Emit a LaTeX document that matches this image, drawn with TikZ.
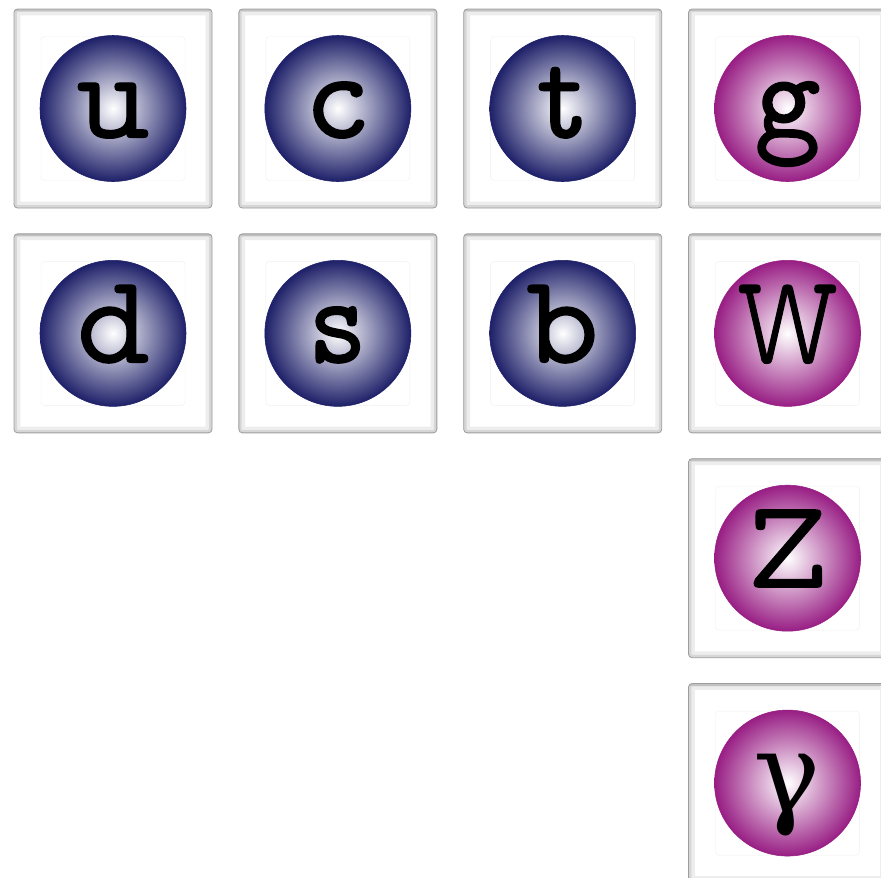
\documentclass[tikz,border=0pt]{standalone}
\usepackage{fontspec}
\usepackage{graphicx}
\usepackage{tikz}
\usetikzlibrary{positioning}

\newfontfamily\particlefont{lmmonoprop10-regular.otf}[FakeBold=1.1]
\newfontfamily\greekfont{DejaVu Serif}

\definecolor{quarkblue}{RGB}{30,32,105}
\definecolor{bosonpink}{RGB}{152,30,132}

\begin{document}
\begin{tikzpicture}[
  node distance=.625cm and .65cm,
  card/.style={draw=black!38,line width=.6pt,fill=white,rounded corners=2.5pt,
    minimum width=4.95cm,minimum height=4.975cm,inner sep=0pt,
    path picture={
      \draw[black!7,line width=9pt,rounded corners=2.5pt]
        (path picture bounding box.south west) rectangle (path picture bounding box.north east);
      \draw[black!16,line width=4pt,rounded corners=2.5pt]
        (path picture bounding box.south west) rectangle (path picture bounding box.north east);
      \draw[black!24,line width=3.5pt]
        (path picture bounding box.north west) -- (path picture bounding box.north east);
      \draw[black!6,line width=.3pt]
        (path picture bounding box.center) ++(-1.8,-1.8) rectangle ++(3.6,3.6);}},
  ball/.style={circle,minimum size=3.65cm,inner sep=0pt,line width=.4pt,
    text height=1.95cm,text depth=.5cm,
    font=\fontsize{90}{90}\selectfont\particlefont},
  quark/.style={ball,inner color=white,outer color=quarkblue,draw=quarkblue},
  boson/.style={ball,inner color=white,outer color=bosonpink,draw=bosonpink}]
\useasboundingbox (0,0) rectangle (22.025,-21.925);
% cards
\node[card] (cu) at (2.825,-2.7125) {};
\node[card,right=of cu] (cc) {};
\node[card,right=of cc] (ct) {};
\node[card,right=of ct] (cg) {};
\node[card,below=of cu] (cd) {};
\node[card,below=of cc] (cs) {};
\node[card,below=of ct] (cb) {};
\node[card,below=of cg] (cw) {};
\node[card,below=of cw] (cz) {};
\node[card,below=of cz] (cgamma) {};
% particles
\node[quark] (u) at (cu) {u};
\node[quark] (c) at (cc) {c};
\node[quark] (t) at (ct) {t};
\node[boson] (g) at (cg) {g};
\node[quark] (d) at (cd) {d};
\node[quark] (s) at (cs) {s};
\node[quark] (b) at (cb) {b};
\node[boson] (w) at (cw) {\scalebox{.76}[1]{W}};
\node[boson] (z) at (cz) {Z};
\node[boson] (gamma) at (cgamma) {\greekfont\fontsize{80}{80}\selectfont γ};
\end{tikzpicture}
\end{document}
